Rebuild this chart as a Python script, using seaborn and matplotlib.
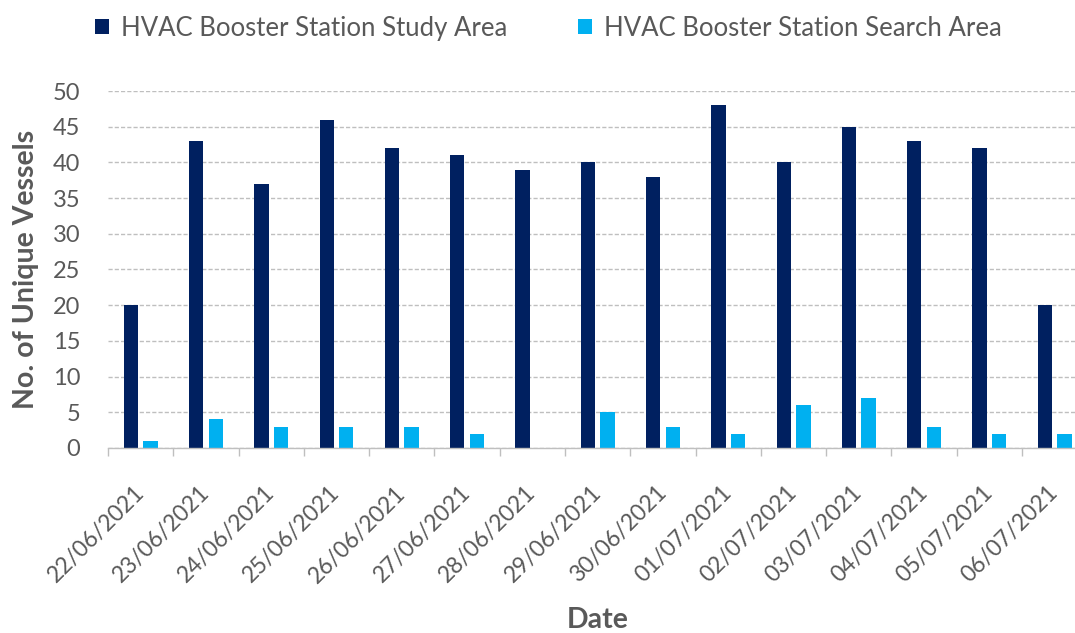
import matplotlib
matplotlib.use("Agg")
import matplotlib.pyplot as plt
import seaborn as sns
import pandas as pd
import numpy as np
from matplotlib.patches import Patch

dates = ["22/06/2021", "23/06/2021", "24/06/2021", "25/06/2021", "26/06/2021",
         "27/06/2021", "28/06/2021", "29/06/2021", "30/06/2021", "01/07/2021",
         "02/07/2021", "03/07/2021", "04/07/2021", "05/07/2021", "06/07/2021"]
study_area = [20, 43, 37, 46, 42, 41, 39, 40, 38, 48, 40, 45, 43, 42, 20]
search_area = [1, 4, 3, 3, 3, 2, 0, 5, 3, 2, 6, 7, 3, 2, 2]
series_names = ["HVAC Booster Station Study Area", "HVAC Booster Station Search Area"]
colors = ["#002060", "#00B0F0"]

df = pd.DataFrame({
    "Date": dates * 2,
    "Vessels": study_area + search_area,
    "Series": [series_names[0]] * len(dates) + [series_names[1]] * len(dates),
})

sns.set_theme(style="white")
plt.rcParams["font.family"] = ["Lato", "DejaVu Sans"]
text_color = "#595959"

fig = plt.figure(figsize=(10.75, 6.33), dpi=100)
ax = fig.add_axes([0.1005, 0.2923, 0.911, 0.5639])

sns.barplot(data=df, x="Date", y="Vessels", hue="Series", order=dates,
            hue_order=series_names, palette=colors, saturation=1,
            width=0.6, gap=0.27, edgecolor="none", ax=ax, legend=False)

ax.set_xlim(-0.5, len(dates) - 0.5)
ax.set_ylim(0, 50)
ax.set_yticks(np.arange(0, 51, 5))
ax.yaxis.grid(True, color="#BFBFBF", linestyle=(0, (3, 1.5)), linewidth=1.0)
ax.set_axisbelow(True)
for s in ["top", "right", "left"]:
    ax.spines[s].set_visible(False)
ax.spines["bottom"].set_color("#BFBFBF")
ax.spines["bottom"].set_linewidth(1.0)

# category separators as minor ticks
ax.set_xticks(np.arange(-0.5, len(dates), 1.0), minor=True)
ax.tick_params(axis="x", which="minor", length=6, width=1.0, color="#BFBFBF", direction="out", bottom=True)
ax.tick_params(axis="x", which="major", length=0, pad=30)
ax.tick_params(axis="y", length=0, pad=20, labelsize=17, labelcolor=text_color)
ax.set_xticks(range(len(dates)))
ax.set_xticklabels(dates, rotation=45, ha="right", va="center", rotation_mode="anchor",
                   fontsize=16.5, color=text_color)

ax.set_xlabel("Date", fontsize=20.5, fontweight="bold", color=text_color)
ax.xaxis.set_label_coords(0.5, -0.445)
ax.set_ylabel("No. of Unique Vessels", fontsize=20.5, fontweight="bold", color=text_color, labelpad=10)

handles = [Patch(facecolor=c, edgecolor="none") for c in colors]
fig.legend(handles, series_names, loc="upper center", bbox_to_anchor=(0.51, 1.012),
           ncol=2, frameon=False, fontsize=18.5, handlelength=0.55, handleheight=0.55,
           handletextpad=0.45, columnspacing=2.75, labelcolor=text_color)

fig.savefig("out.png", dpi=100, facecolor="white")
